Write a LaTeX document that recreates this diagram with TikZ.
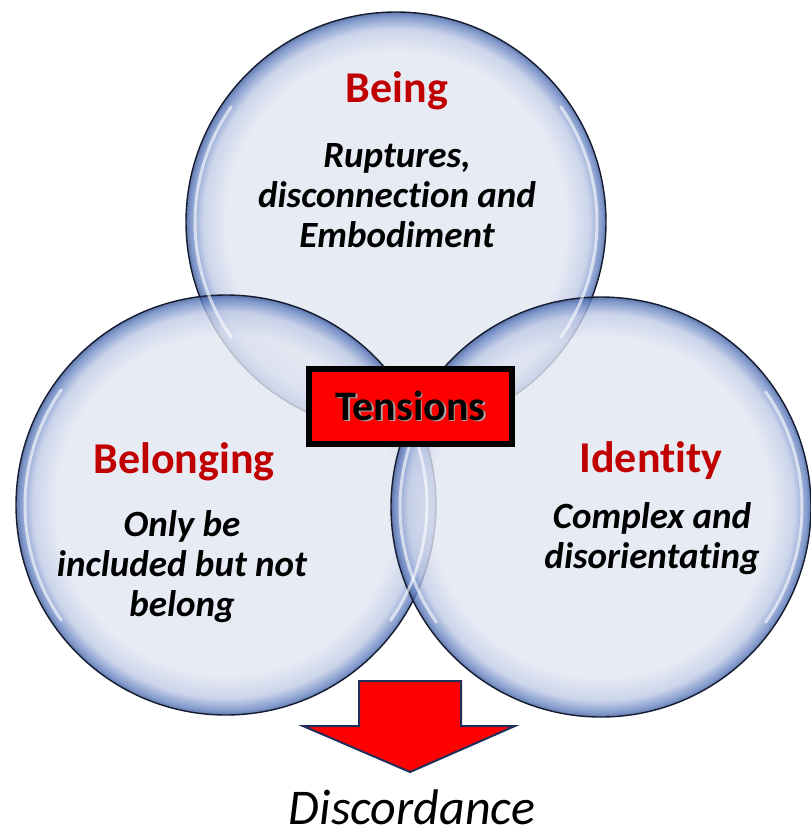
\documentclass[tikz,border=0pt]{standalone}
\usepackage{fontspec}
\setmainfont{Carlito}[Ligatures={NoCommon,NoContextual}]
\definecolor{bubin}{HTML}{E2E6F2}
\definecolor{bubmid}{HTML}{BFCAE6}
\definecolor{bubrim}{HTML}{6482C0}
\definecolor{bubedge}{HTML}{3C5899}
\definecolor{titlered}{HTML}{C00000}
\definecolor{arrowline}{HTML}{1F2F5A}
\definecolor{outline}{HTML}{151C30}
\pgfdeclareradialshading{bubbleshade}{\pgfpoint{0bp}{0bp}}{color(0bp)=(bubin); color(20.3bp)=(bubin); color(23bp)=(bubmid); color(24.5bp)=(bubrim); color(25bp)=(bubedge); color(50bp)=(bubedge)}
\begin{document}
\begin{tikzpicture}[x=1pt,y=-1pt,
  bubble/.style={circle, minimum size=420pt, inner sep=0pt, shading=bubbleshade, fill opacity=0.8, draw=outline, line width=1.4pt},
  shine/.style={white, line width=3pt, opacity=0.6, line cap=round},
  title/.style={font=\fontsize{44}{52}\selectfont\bfseries, text=titlered, anchor=base, inner sep=0pt},
  body/.style={font=\fontsize{37}{40}\selectfont\bfseries\itshape, align=center, anchor=north, inner sep=0pt},
  tensbox/.style={draw=black, line width=6pt, fill=red, minimum width=203pt, minimum height=75pt, inner sep=0pt, font=\fontsize{42}{48}\selectfont\bfseries},
  arrowshape/.style={fill=red, draw=arrowline, line width=2pt, line join=miter},
  bigword/.style={font=\fontsize{50}{58}\selectfont\itshape, anchor=base, inner sep=0pt}]
\useasboundingbox (0,0) rectangle (811,836);
\fill[white] (0,0) rectangle (811,836);
% bubbles
\node[bubble] (being) at (396,222) {};
\node[bubble] (belonging) at (226,505) {};
\node[bubble] (identity) at (601,507) {};
\foreach \c in {being,belonging,identity}{
  \draw[shine] (\c.center) ++(145:201pt) arc[start angle=145, end angle=215, radius=201pt];
  \draw[shine] (\c.center) ++(-35:201pt) arc[start angle=-35, end angle=35, radius=201pt];
}
% texts
\node[title] (beingT) at (397,102) {Being};
\node[body] (beingB) at (397,130) {\rule{0pt}{37pt}Ruptures,\\disconnection and\\Embodiment};
\node[title] (belongingT) at (184,473) {Belonging};
\node[body] (belongingB) at (182,499) {\rule{0pt}{37pt}Only be\\included but not\\belong};
\node[title] (identityT) at (651,472) {Identity};
\node[body] (identityB) at (652,491) {\rule{0pt}{37pt}Complex and\\disorientating};
% tensions
\node[tensbox] (tensions) at (410.5,406.5) {\rlap{\hspace{1.5pt}\raisebox{-1.5pt}{\color{black!35}Tensions}}Tensions};
% arrow
\draw[arrowshape] (359,681) -- (461,681) -- (461,726) -- (515,726) -- (410,772) -- (303,726) -- (359,726) -- cycle;
\node[bigword] (disc) at (412,824) {Discordance};
\end{tikzpicture}
\end{document}
